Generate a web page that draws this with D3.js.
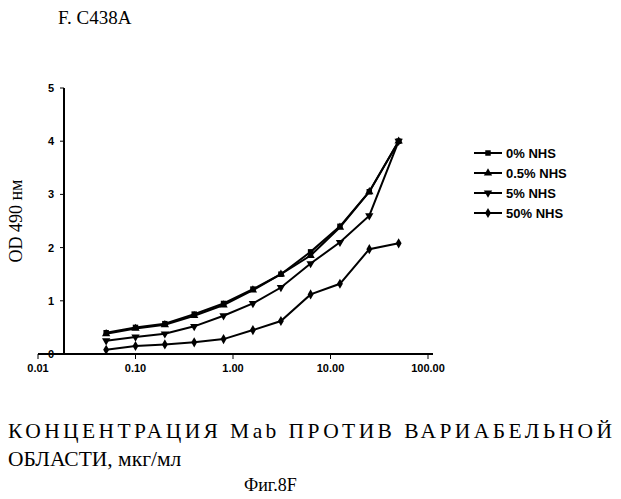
<!DOCTYPE html><html><head><meta charset="utf-8">
<script src="https://cdn.jsdelivr.net/npm/d3@7"></script>
<style>body{margin:0;background:#fff}</style></head><body>
<script>
const concentrations=[0.05,0.1,0.2,0.4,0.8,1.6,3.1,6.25,12.5,25,50];
const seriesNames=["0% NHS","0.5% NHS","5% NHS","50% NHS"];
const s0=[0.40,0.50,0.57,0.75,0.95,1.22,1.50,1.92,2.40,3.05,4.00];
const s05=[0.38,0.48,0.55,0.72,0.92,1.20,1.50,1.85,2.38,3.05,4.00];
const s5=[0.25,0.32,0.38,0.52,0.72,0.95,1.25,1.70,2.10,2.60,4.00];
const s50=[0.08,0.15,0.18,0.22,0.28,0.45,0.62,1.12,1.32,1.97,2.08];
const xTicks=[0.01,0.1,1,10,100];
const xTickLabels=["0.01","0.10","1.00","10.00","100.00"];
const yTicks=[0,1,2,3,4,5];
const all=[s0,s05,s5,s50];
const svg=d3.select("body").append("svg").attr("width",621).attr("height",499);
const x=d3.scaleLog().domain([0.01,100]).range([38,428]);
const y=d3.scaleLinear().domain([0,5]).range([354,88]);
svg.append("text").attr("x",58).attr("y",24).attr("font-family","Liberation Serif").attr("font-size",19).text("F. C438A");
const g=svg.append("g");
g.append("line").attr("x1",38).attr("x2",x(100)+5).attr("y1",354).attr("y2",354).attr("stroke","#000").attr("stroke-width",2);
g.append("line").attr("x1",64).attr("x2",64).attr("y1",88).attr("y2",354).attr("stroke","#000").attr("stroke-width",2);
xTicks.forEach((t,i)=>{g.append("line").attr("x1",x(t)).attr("x2",x(t)).attr("y1",354).attr("y2",359).attr("stroke","#000");
 g.append("text").attr("x",x(t)).attr("y",372).attr("text-anchor","middle").attr("font-family","Liberation Sans").attr("font-weight","bold").attr("font-size",11).text(xTickLabels[i]);});
yTicks.forEach(t=>{g.append("line").attr("x1",60).attr("x2",64).attr("y1",y(t)).attr("y2",y(t)).attr("stroke","#000");
 g.append("text").attr("x",54).attr("y",y(t)+4).attr("text-anchor","end").attr("font-family","Liberation Sans").attr("font-weight","bold").attr("font-size",11).text(t);});
svg.append("text").attr("transform","translate(22,221) rotate(-90)").attr("text-anchor","middle").attr("font-family","Liberation Serif").attr("font-size",18).text("OD 490 нм");
const syms=[d3.symbolSquare,d3.symbolTriangle,d3.symbolTriangle,d3.symbolDiamond];
const rot=[0,0,180,0];
const line=d3.line().x((d,i)=>x(concentrations[i])).y(d=>y(d));
all.forEach((s,k)=>{
 svg.append("path").attr("d",line(s)).attr("fill","none").attr("stroke","#000").attr("stroke-width",2);
 s.forEach((v,i)=>svg.append("path").attr("d",d3.symbol(syms[k],30)()).attr("transform",`translate(${x(concentrations[i])},${y(v)}) rotate(${rot[k]})`));
 const ly=153+k*20;
 svg.append("line").attr("x1",474).attr("x2",502).attr("y1",ly).attr("y2",ly).attr("stroke","#000").attr("stroke-width",2);
 svg.append("path").attr("d",d3.symbol(syms[k],30)()).attr("transform",`translate(488,${ly}) rotate(${rot[k]})`);
 svg.append("text").attr("x",506).attr("y",ly+5).attr("font-family","Liberation Sans").attr("font-weight","bold").attr("font-size",13).text(seriesNames[k]);
});
svg.append("text").attr("x",8).attr("y",438).attr("font-family","Liberation Serif").attr("font-size",21.5).attr("textLength",604).text("КОНЦЕНТРАЦИЯ Mab ПРОТИВ ВАРИАБЕЛЬНОЙ");
svg.append("text").attr("x",8).attr("y",466).attr("font-family","Liberation Serif").attr("font-size",21.5).text("ОБЛАСТИ, мкг/мл");
svg.append("text").attr("x",244).attr("y",491).attr("font-family","Liberation Serif").attr("font-size",18).text("Фиг.8F");
</script></body></html>
